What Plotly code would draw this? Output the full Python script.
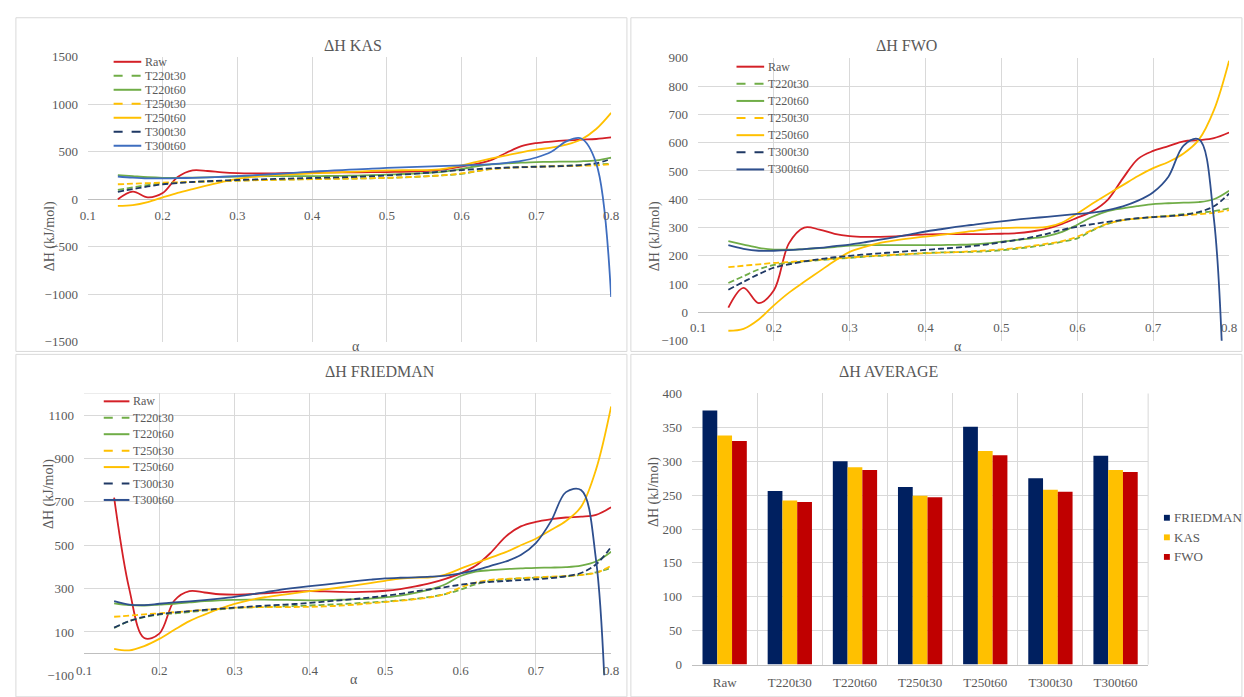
import plotly.graph_objects as go

W, H = 1244, 697

# conversion degree shared by the three isoconversional panels
alpha = [0.14, 0.16, 0.18, 0.20, 0.22, 0.24, 0.26, 0.28, 0.30, 0.32, 0.34, 0.36,
         0.38, 0.40, 0.42, 0.44, 0.46, 0.48, 0.50, 0.52, 0.54, 0.56, 0.58, 0.60,
         0.62, 0.64, 0.66, 0.68, 0.70, 0.72, 0.74, 0.76, 0.78, 0.80]

series_names = ["Raw", "T220t30", "T220t60", "T250t30", "T250t60", "T300t30", "T300t60"]

# ---- ΔH by KAS (kJ/mol)
kas_raw = [0, 80, 20, 65, 235, 305, 298, 283, 275, 272, 272, 275, 279, 283, 284, 284, 284,
           285, 287, 290, 295, 303, 318, 345, 372, 415, 490, 560, 592, 608, 620, 628, 635, 652]
kas_t220t30 = [100, 125, 150, 168, 176, 182, 188, 193, 197, 201, 205, 208, 211, 215, 217, 218, 219,
               221, 225, 230, 237, 245, 255, 268, 296, 320, 333, 340, 345, 350, 355, 360, 366, 375]
kas_t220t60 = [255, 243, 232, 226, 226, 228, 231, 235, 240, 242, 243, 243, 243, 244, 245, 247, 250,
               254, 260, 266, 272, 280, 295, 320, 348, 368, 378, 386, 392, 395, 397, 400, 410, 440]
kas_t250t30 = [158, 164, 170, 175, 179, 183, 188, 192, 196, 200, 203, 206, 209, 212, 214, 216, 219,
               222, 226, 231, 238, 246, 256, 272, 296, 318, 330, 337, 342, 346, 349, 353, 358, 370]
kas_t250t60 = [-70, -62, -30, 20, 68, 108, 146, 184, 216, 235, 249, 258, 266, 272, 278, 285, 292,
               299, 304, 306, 307, 310, 326, 358, 395, 430, 462, 495, 522, 545, 575, 630, 740, 910]
kas_t300t30 = [78, 107, 135, 158, 171, 182, 190, 197, 203, 208, 212, 216, 220, 224, 228, 232, 237,
               243, 251, 260, 270, 282, 296, 308, 318, 326, 333, 338, 342, 346, 351, 360, 380, 425]
kas_t300t60 = [240, 228, 220, 220, 222, 226, 231, 237, 244, 252, 261, 271, 281, 291, 300, 308, 316,
               323, 330, 336, 341, 346, 351, 356, 362, 370, 384, 405, 440, 500, 610, 640, 380, -1030]

# ---- ΔH by FWO (kJ/mol)
fwo_raw = [17, 87, 33, 78, 245, 300, 293, 278, 270, 267, 267, 269, 273, 276, 277, 277, 277,
           277, 278, 280, 286, 296, 313, 335, 358, 398, 474, 543, 571, 588, 605, 609, 616, 636]
fwo_t220t30 = [104, 128, 152, 168, 175, 180, 185, 189, 193, 197, 200, 203, 206, 210, 212, 213, 214,
               216, 220, 225, 232, 240, 250, 262, 290, 313, 326, 332, 337, 342, 347, 352, 358, 368]
fwo_t220t60 = [252, 240, 228, 222, 222, 224, 227, 231, 236, 238, 238, 238, 238, 238, 238, 239, 240,
               244, 250, 256, 262, 270, 285, 310, 338, 358, 368, 376, 383, 386, 388, 390, 400, 430]
fwo_t250t30 = [160, 165, 170, 175, 178, 182, 186, 190, 194, 198, 201, 204, 207, 209, 211, 213, 216,
               219, 223, 228, 235, 243, 252, 268, 292, 314, 326, 332, 337, 340, 343, 347, 352, 362]
fwo_t250t60 = [-65, -58, -25, 25, 70, 108, 145, 182, 214, 232, 246, 255, 262, 268, 274, 280, 287,
               294, 298, 300, 300, 302, 318, 350, 385, 418, 450, 482, 510, 532, 562, 610, 715, 890]
fwo_t300t30 = [80, 108, 135, 158, 170, 180, 188, 195, 200, 205, 209, 213, 217, 221, 225, 229, 234,
               240, 248, 256, 266, 278, 292, 303, 312, 320, 327, 333, 337, 340, 345, 355, 375, 420]
fwo_t300t60 = [238, 225, 218, 218, 220, 224, 228, 234, 240, 248, 257, 266, 276, 286, 294, 302, 309,
               316, 322, 328, 333, 338, 343, 348, 353, 362, 375, 395, 425, 480, 590, 612, 330, -1030]

# ---- ΔH by FRIEDMAN (kJ/mol)
fr_raw = [720, 300, 72, 92, 245, 288, 282, 274, 272, 274, 278, 283, 287, 288, 287, 285, 284,
          286, 290, 298, 310, 325, 345, 370, 405, 465, 540, 587, 608, 620, 628, 632, 640, 675]
fr_t220t30 = [118, 150, 168, 180, 186, 192, 198, 204, 210, 213, 216, 218, 220, 222, 225, 228, 232,
              236, 240, 246, 253, 262, 275, 295, 320, 335, 342, 347, 350, 353, 357, 363, 375, 395]
fr_t220t60 = [232, 224, 222, 226, 230, 236, 242, 246, 248, 249, 249, 248, 247, 246, 247, 249, 251,
              254, 260, 268, 280, 296, 320, 358, 378, 385, 390, 393, 396, 397, 399, 406, 425, 470]
fr_t250t30 = [170, 175, 181, 186, 191, 196, 202, 207, 212, 214, 215, 215, 215, 216, 218, 221, 226,
              232, 238, 244, 251, 260, 275, 305, 328, 340, 345, 348, 352, 355, 358, 363, 373, 405]
fr_t250t60 = [22, 15, 35, 68, 110, 150, 180, 207, 230, 247, 260, 270, 279, 288, 296, 305, 315,
              325, 336, 346, 351, 352, 365, 392, 418, 443, 468, 500, 530, 570, 612, 677, 850, 1140]
fr_t300t30 = [120, 150, 170, 182, 190, 196, 202, 207, 212, 217, 221, 225, 229, 234, 240, 246, 252,
              259, 267, 276, 287, 297, 307, 318, 326, 331, 335, 339, 343, 348, 357, 372, 412, 492]
fr_t300t60 = [242, 226, 224, 230, 236, 241, 247, 254, 262, 272, 283, 294, 303, 311, 318, 326, 334,
              341, 347, 350, 352, 355, 360, 370, 385, 405, 425, 455, 510, 610, 745, 755, 430, -1100]

# ---- average ΔH per sample
samples = ["Raw", "T220t30", "T220t60", "T250t30", "T250t60", "T300t30", "T300t60"]
avg_friedman = [375, 256, 300, 262, 351, 275, 308]
avg_kas = [338, 242, 291, 249, 315, 258, 287]
avg_fwo = [330, 240, 287, 247, 309, 255, 284]

# ---- styling
FONT = "'Liberation Serif', Tinos, 'Times New Roman', 'DejaVu Serif', serif"
TXT = "#595959"
GRID = "#D9D9D9"
AXIS = "#BFBFBF"

line_color = {"Raw": "#D42027", "T220t30": "#70AD47", "T220t60": "#70AD47",
              "T250t30": "#FFC000", "T250t60": "#FFC000", "T300t30": "#1F3864",
              "T300t60": "#2E4F8E"}
line_dash = {"Raw": "solid", "T220t30": "6px,3px", "T220t60": "solid",
             "T250t30": "6px,3px", "T250t60": "solid", "T300t30": "6px,3px",
             "T300t60": "solid"}
bar_colors = {"FRIEDMAN": "#002060", "KAS": "#FFC000", "FWO": "#C00000"}


def X(p):
    return p / W


def Y(p):
    return 1 - p / H


panels = [
    dict(key="KAS", ax=("x", "y"),
         data=[kas_raw, kas_t220t30, kas_t220t60, kas_t250t30, kas_t250t60, kas_t300t30, kas_t300t60],
         blue="#3E6DBF"),
    dict(key="FWO", ax=("x2", "y2"),
         data=[fwo_raw, fwo_t220t30, fwo_t220t60, fwo_t250t30, fwo_t250t60, fwo_t300t30, fwo_t300t60],
         blue="#2E4F8E"),
    dict(key="FRIEDMAN", ax=("x3", "y3"),
         data=[fr_raw, fr_t220t30, fr_t220t60, fr_t250t30, fr_t250t60, fr_t300t30, fr_t300t60],
         blue="#2E4F8E"),
]

fig = go.Figure()

for p in panels:
    for name, vals in zip(series_names, p["data"]):
        col = p["blue"] if name == "T300t60" else line_color[name]
        fig.add_trace(go.Scatter(
            x=alpha, y=vals, mode="lines", name=name, showlegend=False,
            line=dict(color=col, width=1.8, dash=line_dash[name], shape="spline", smoothing=1),
            xaxis=p["ax"][0], yaxis=p["ax"][1], hoverinfo="x+y+name"))

for method, vals in [("FRIEDMAN", avg_friedman), ("KAS", avg_kas), ("FWO", avg_fwo)]:
    fig.add_trace(go.Bar(x=samples, y=vals, name=method, marker_color=bar_colors[method],
                         marker_line_width=0, showlegend=False, xaxis="x4", yaxis="y4"))

tick_font = dict(family=FONT, size=13, color=TXT)


def xline(domain, zero_py):
    return dict(domain=domain, range=[0.1, 0.8], tick0=0.1, dtick=0.1, tickformat=".1f",
                anchor="free", position=Y(zero_py), showgrid=True, gridcolor=GRID,
                gridwidth=1, zeroline=False, showline=False, ticks="",
                ticklabelstandoff=6, tickfont=tick_font, fixedrange=True)


def yline(domain, rng, tick0, dtick, anchor):
    return dict(domain=domain, range=rng, tick0=tick0, dtick=dtick, anchor=anchor,
                showgrid=True, gridcolor=GRID, gridwidth=1, zeroline=True,
                zerolinecolor=AXIS, zerolinewidth=1, showline=False, ticks="",
                ticklabelstandoff=9, tickfont=tick_font, fixedrange=True)


fig.update_layout(
    width=W, height=H, margin=dict(l=0, r=0, t=0, b=0),
    paper_bgcolor="white", plot_bgcolor="white",
    barmode="group", bargap=0.32, bargroupgap=0,
    font=dict(family=FONT, color=TXT),
    xaxis=xline([X(81), X(611)], 197),
    yaxis=yline([Y(342), Y(51)], [-1500, 1500], -1500, 500, "x"),
    xaxis2=xline([X(699), X(1237)], 312),
    yaxis2=yline([Y(341), Y(52)], [-100, 900], -100, 100, "x2"),
    xaxis3=xline([X(77), X(611)], 662),
    yaxis3=yline([Y(683), Y(395)], [-100, 1200], -100, 200, "x3"),
    xaxis4=dict(domain=[X(693), X(1155)], anchor="y4", type="category",
                tickson="boundaries", showgrid=True, gridcolor=GRID, gridwidth=1,
                showline=True, linecolor=AXIS, linewidth=1, ticks="",
                ticklabelstandoff=6, tickfont=tick_font, fixedrange=True),
    yaxis4=dict(domain=[Y(672), Y(395)], range=[0, 400], dtick=50, anchor="x4",
                showgrid=True, gridcolor=GRID, gridwidth=1, zeroline=False,
                showline=False, ticks="", ticklabelstandoff=9, tickfont=tick_font,
                fixedrange=True),
)

shapes = []
annotations = []

# chart-area frames
for x0, y0, x1, y1 in [(8, 11, 627, 352), (631, 11, 1250, 352),
                       (8, 355, 627, 705), (631, 355, 1250, 705)]:
    shapes.append(dict(type="rect", xref="paper", yref="paper", x0=X(x0), x1=X(x1),
                       y0=Y(y1), y1=Y(y0), line=dict(color=GRID, width=1), layer="below"))

# upper plot edge of the FRIEDMAN panel and right edge of the average panel
shapes.append(dict(type="line", xref="x3 domain", yref="y3", x0=0, x1=1, y0=1200, y1=1200,
                   line=dict(color=GRID, width=1), layer="below"))
shapes.append(dict(type="line", xref="x4 domain", yref="y4 domain", x0=1, x1=1, y0=0, y1=1,
                   line=dict(color=GRID, width=1), layer="below"))


def text(x, y, s, size=13, **kw):
    annotations.append(dict(x=X(x), y=Y(y), xref="paper", yref="paper", text=s,
                            showarrow=False, font=dict(family=FONT, size=size, color=TXT), **kw))


# titles
text(318, 29, "ΔH KAS", size=16)
text(943, 29, "ΔH FWO", size=16)
text(319, 373, "ΔH FRIEDMAN", size=16)
text(944, 373, "ΔH AVERAGE", size=16)

# axis titles
for ax_x, ax_y in [(32, 197), (655, 197), (32, 536), (654, 534)]:
    text(ax_x, ax_y, "ΔH (kJ/mol)", size=14, textangle=-90)
text(346, 347, "α", size=14)
text(968, 347, "α", size=14)
text(344, 697, "α", size=14, yanchor="bottom")

# series keys for the line panels
legend_spots = [dict(x0=107, x1=135, y=56, step=14.3),
                dict(x0=738, x1=766, y=61, step=17.5),
                dict(x0=97, x1=123, y=403, step=16.8)]
for p, spot in zip(panels, legend_spots):
    for i, name in enumerate(series_names):
        yy = spot["y"] + i * spot["step"]
        col = p["blue"] if name == "T300t60" else line_color[name]
        dash = "dash" if line_dash[name] != "solid" else "solid"
        shapes.append(dict(type="line", xref="paper", yref="paper",
                           x0=X(spot["x0"]), x1=X(spot["x1"]), y0=Y(yy), y1=Y(yy),
                           line=dict(color=col, width=2, dash=dash)))
        text(spot["x1"] + 2, yy, name, size=12, xanchor="left", yanchor="middle")

# key for the bar panel
for i, method in enumerate(["FRIEDMAN", "KAS", "FWO"]):
    yy = 522 + i * 20
    shapes.append(dict(type="rect", xref="paper", yref="paper", x0=X(1171), x1=X(1177),
                       y0=Y(yy + 3), y1=Y(yy - 3), fillcolor=bar_colors[method],
                       line=dict(width=0)))
    text(1179, yy, method, size=13, xanchor="left", yanchor="middle")

fig.update_layout(shapes=shapes, annotations=annotations)

fig.write_html("out.html")
